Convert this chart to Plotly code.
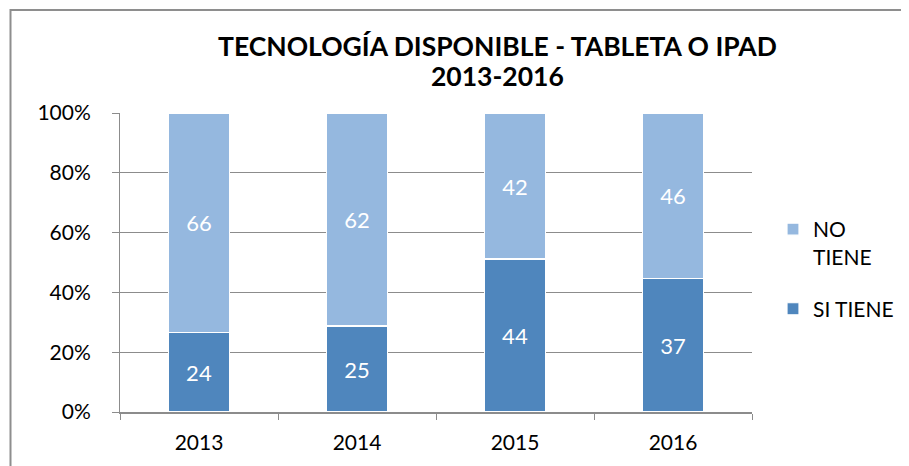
import plotly.graph_objects as go

years = ["2013", "2014", "2015", "2016"]
si_tiene = [24, 25, 44, 37]
no_tiene = [66, 62, 42, 46]
y_ticks = [0, 20, 40, 60, 80, 100]
y_tick_labels = ["0%", "20%", "40%", "60%", "80%", "100%"]
title_lines = ["TECNOLOGÍA DISPONIBLE - TABLETA O IPAD", "2013-2016"]

DARK = "#4F86BD"
LIGHT = "#95B8DF"
GRID = "#8C8C8C"
FONT = "Lato"

W, H = 909, 466
OFF = 8  # page body margin offset
# plot area in screen pixels
PX0, PX1, PY0, PY1 = 120, 752, 113, 412
L = PX0 - OFF
T = PY0 - OFF
R = W - (PX1 - OFF)
B = H - (PY1 - OFF)
pw = PX1 - PX0
ph = PY1 - PY0


def px(xs):
    return (xs - PX0) / pw


def py(ys):
    return (PY1 - ys) / ph


fig = go.Figure()
fig.add_trace(go.Bar(
    x=years, y=si_tiene, name="SI TIENE", legendgroup="si", legendrank=2,
    marker=dict(color=DARK, line=dict(color="white", width=1.2)),
    text=si_tiene, textposition="inside", insidetextanchor="middle",
    textfont=dict(color="white", size=22, family=FONT),
))
fig.add_trace(go.Bar(
    x=years, y=no_tiene, name="NO<br>TIENE", legendgroup="no", legendrank=1,
    marker=dict(color=LIGHT, line=dict(color="white", width=1.2)),
    text=no_tiene, textposition="inside", insidetextanchor="middle",
    textfont=dict(color="white", size=22, family=FONT),
))

fig.update_layout(
    width=W, height=H,
    margin=dict(l=L, r=R, t=T, b=B, autoexpand=False),
    barmode="stack", barnorm="percent", bargap=0.61,
    paper_bgcolor="white", plot_bgcolor="white",
    font=dict(family=FONT, color="black", size=21),
    showlegend=True,
    legend=dict(
        x=px(773), y=py(209), xanchor="left", yanchor="top",
        traceorder="grouped", tracegroupgap=22, valign="top",
        font=dict(size=21, family=FONT, color="black"),
        bgcolor="rgba(0,0,0,0)",
    ),
)

fig.add_annotation(
    text="<b>" + title_lines[0] + "</b>", xref="paper", yref="paper",
    x=px(497), y=py(46), xanchor="center", yanchor="middle",
    showarrow=False, font=dict(size=26.5, family=FONT, color="black"),
)
fig.add_annotation(
    text="<b>" + title_lines[1] + "</b>", xref="paper", yref="paper",
    x=px(497), y=py(76), xanchor="center", yanchor="middle",
    showarrow=False, font=dict(size=26.5, family=FONT, color="black"),
)

fig.update_yaxes(
    range=[0, 100], tickmode="array", tickvals=y_ticks, ticktext=y_tick_labels,
    showgrid=True, gridcolor=GRID, gridwidth=1,
    showline=True, linecolor=GRID, linewidth=1,
    ticks="outside", ticklen=7, tickcolor=GRID, ticklabelstandoff=17,
    zeroline=False, tickfont=dict(size=21, family=FONT, color="black"),
)
fig.update_xaxes(
    showline=True, linecolor=GRID, linewidth=2,
    ticks="outside", ticklen=6, tickcolor=GRID, tickson="boundaries",
    ticklabelstandoff=11,
    showgrid=False, tickfont=dict(size=21, family=FONT, color="black"),
)

fig.add_shape(
    type="rect", xref="paper", yref="paper",
    x0=px(10.5), x1=px(960),
    y0=py(520), y1=py(10),
    line=dict(color="#8E8E8E", width=2), fillcolor="rgba(0,0,0,0)",
    layer="above",
)

fig.write_html("out.html")
